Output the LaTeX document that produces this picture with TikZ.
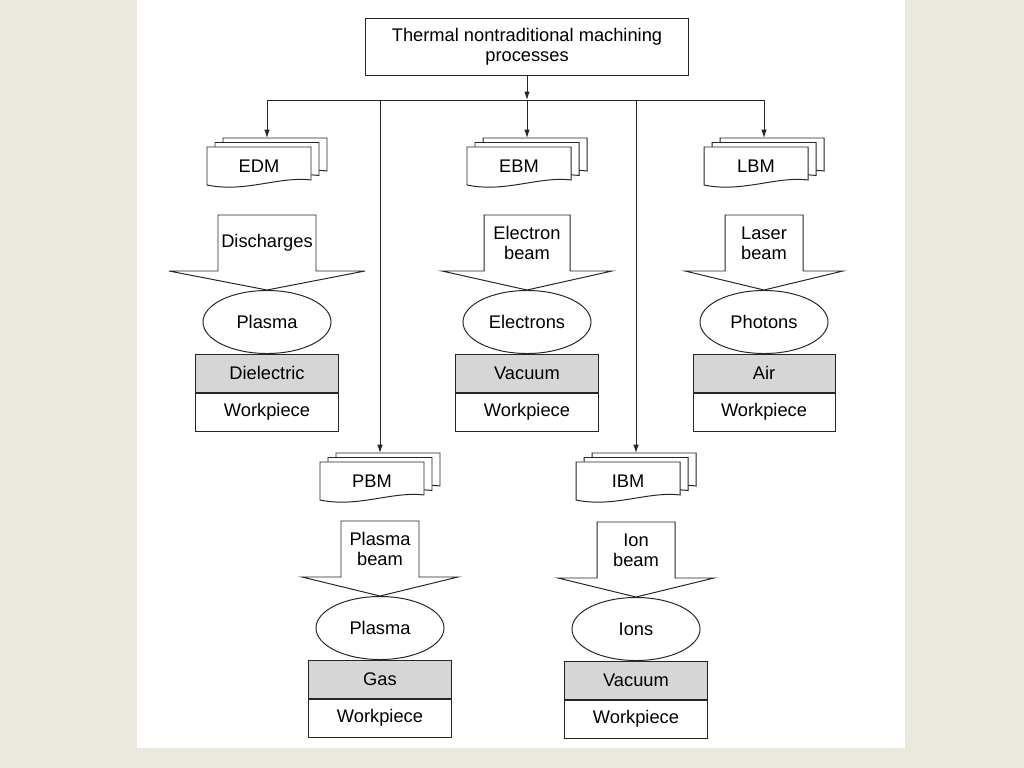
\documentclass[tikz,border=0pt]{standalone}
\usepackage{fontspec}
\setmainfont{Liberation Sans}
\usepackage{tikz}
\usetikzlibrary{arrows.meta,shapes.geometric,positioning}
\definecolor{slidebg}{RGB}{235,232,222}
\definecolor{medgray}{RGB}{214,214,214}
\tikzset{
 every node/.style={font=\fontsize{13}{14.5}\selectfont},
 thinline/.style={draw=black!85,line width=0.7pt},
 conn/.style={thinline,-{Latex[length=6pt,width=4pt]}},
 docpage/.style={thinline,fill=white},
 docnode/.style={minimum width=2.6cm,minimum height=0.95cm,inner sep=0pt},
 headbox/.style={thinline,minimum width=8.05cm,minimum height=1.4cm,align=center},
 beamtext/.style={align=center,inner sep=0pt},
 spotnode/.style={thinline,ellipse,minimum width=3.2cm,minimum height=1.575cm,inner sep=0pt},
 medium/.style={thinline,fill=medgray,minimum width=3.55cm,minimum height=0.95cm,inner sep=0pt},
 work/.style={thinline,fill=white,minimum width=3.55cm,minimum height=0.95cm,inner sep=0pt}
}

\begin{document}
\begin{tikzpicture}[x=0.025cm,y=-0.025cm]
\fill[slidebg] (0,0) rectangle (1024,768);
\fill[white] (137,0) rectangle (905,748);
\node[headbox] (title) at (527,47) {Thermal nontraditional machining\\processes};
\coordinate (bus) at (527,100);
\foreach \nm/\cx/\by/\dy/\proc/\beam/\sh/\wg/\spot/\med in {
 edm/267/215/147/EDM/Discharges/49/98/Plasma/Dielectric,
 ebm/527/215/147/EBM/{Electron\\beam}/43/85/Electrons/Vacuum,
 lbm/764/215/147/LBM/{Laser\\beam}/39/79/Photons/Air,
 pbm/380/521/462/PBM/{Plasma\\beam}/39/78/Plasma/Gas,
 ibm/636/522/462/IBM/{Ion\\beam}/39/78/Ions/Vacuum}{
 \coordinate (\nm-in) at (\cx,\dy-9);
 \foreach \ox/\oy in {16/-9,8/-4.5,0/0}
  \draw[docpage,shift={(\cx-60+\ox,\dy+\oy)}] (0,0) -- (104,0) -- (104,33)
   .. controls (72,29) and (38,46) .. (0,38) -- cycle;
 \node[docnode] (\nm-doc) at (\cx-8,\dy+19) {\proc};
 \draw[thinline,fill=white,shift={(\cx,\by)}] (-\sh,0) -- (\sh,0) -- (\sh,56) -- (\wg,56)
  -- (0,75) -- (-\wg,56) -- (-\sh,56) -- cycle;
 \node[beamtext] (\nm-beam) at (\cx,\by+28) {\beam};
 \node[spotnode] (\nm-spot) at (\cx,\by+107) {\spot};
 \node[medium] (\nm-med) at (\cx,\by+158) {\med};
 \node[work,below=0pt of \nm-med] (\nm-work) {Workpiece};
}
\draw[conn] (title) -- (bus);
\draw[thinline] (edm-in |- bus) -- (lbm-in |- bus);
\foreach \nm in {edm,ebm,lbm,pbm,ibm}
 \draw[conn] (\nm-in |- bus) -- (\nm-in);
\end{tikzpicture}
\end{document}
